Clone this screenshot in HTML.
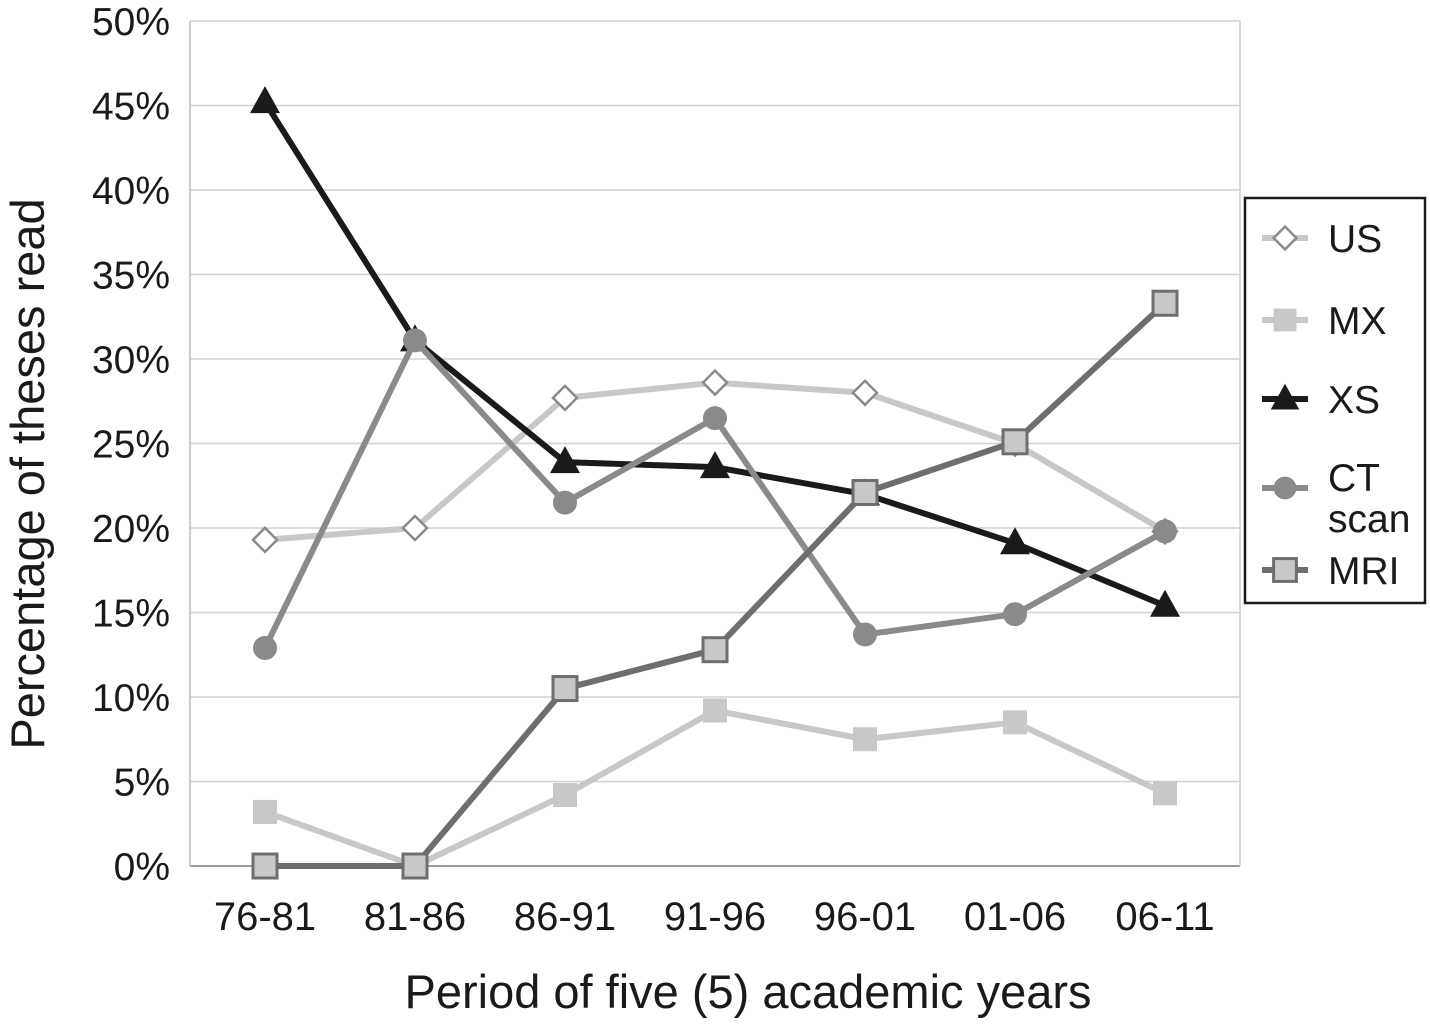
<!DOCTYPE html>
<html><head><meta charset="utf-8"><style>
html,body{margin:0;padding:0;background:#fff}
svg text{font-family:"Liberation Sans",Arial,sans-serif;fill:#1a1a1a}
</style></head><body>
<svg id="chart" width="1430" height="1019" viewBox="0 0 1430 1019" xmlns="http://www.w3.org/2000/svg">
<g id="grid"></g><g id="series"></g>
<text transform="translate(44,474) rotate(-90)" text-anchor="middle" font-size="47">Percentage of theses read</text>
<text x="748" y="1008" text-anchor="middle" font-size="47">Period of five (5) academic years</text>
<g id="legend"></g>
</svg>
<script>
const categories=["76-81","81-86","86-91","91-96","96-01","01-06","06-11"];
const yTicks=[0,5,10,15,20,25,30,35,40,45,50];
const usValues=[19.3,20.0,27.7,28.6,28.0,25.0,19.8];
const mxValues=[3.2,0,4.2,9.2,7.5,8.5,4.3];
const xsValues=[45.2,31.1,23.9,23.6,22.0,19.1,15.4];
const ctValues=[12.9,31.1,21.5,26.5,13.7,14.9,19.8];
const mriValues=[0,0,10.5,12.8,22.1,25.1,33.3];
const NS="http://www.w3.org/2000/svg";
const L=190,R=1240,T=21,B=866;
const x=i=>L+(R-L)/categories.length*(i+0.5);
const y=v=>B-(B-T)*v/50;
function mk(tag,attrs,parent){const e=document.createElementNS(NS,tag);for(const k in attrs)e.setAttribute(k,attrs[k]);parent.appendChild(e);return e;}
const grid=document.getElementById('grid');
yTicks.forEach(t=>{
 const g=mk('line',{x1:L,x2:R,y1:y(t),y2:y(t),stroke:t===0?'#999':'#d0d0d0','stroke-width':t===0?2:1.5},grid);
 
 
 const tx=mk('text',{x:170,y:y(t)+14,'text-anchor':'end','font-size':39},grid);tx.textContent=t+'%';
 
 
});
const ax=mk('line',{x1:L,x2:L,y1:T,y2:B,stroke:'#bbb','stroke-width':1.5},grid);


const ax2=mk('line',{x1:R,x2:R,y1:T,y2:B,stroke:'#ccc','stroke-width':1.5},grid);


categories.forEach((c,i)=>{const t=mk('text',{x:x(i),y:930,'text-anchor':'middle','font-size':40},grid);t.textContent=c;
 
 });
function marker(kind,cx,cy,p,s){
 let e;
 if(kind==='diamond')e=mk('polygon',{points:`${cx},${cy-12*s} ${cx+12*s},${cy} ${cx},${cy+12*s} ${cx-12*s},${cy}`,fill:'#fff',stroke:'#8a8a8a','stroke-width':2.5},p);
 else if(kind==='sq')e=mk('rect',{x:cx-12*s,y:cy-12*s,width:24*s,height:24*s,fill:'#c8c8c8'},p);
 else if(kind==='tri')e=mk('polygon',{points:`${cx},${cy-16*s} ${cx+15*s},${cy+11*s} ${cx-15*s},${cy+11*s}`,fill:'#1a1a1a'},p);
 else if(kind==='circ')e=mk('circle',{cx:cx,cy:cy,r:12*s,fill:'#8a8a8a'},p);
 else e=mk('rect',{x:cx-12*s,y:cy-12*s,width:24*s,height:24*s,fill:'#c8c8c8',stroke:'#6e6e6e','stroke-width':3},p);
 return e;
}
const series=[
 {name:'US',vals:usValues,color:'#c8c8c8',kind:'diamond'},
 {name:'MX',vals:mxValues,color:'#c8c8c8',kind:'sq'},
 {name:'XS',vals:xsValues,color:'#1a1a1a',kind:'tri'},
 {name:'CT',vals:ctValues,color:'#8a8a8a',kind:'circ'},
 {name:'MRI',vals:mriValues,color:'#6e6e6e',kind:'mri'}];
const sg=document.getElementById('series');
series.forEach(s=>{
 const g=mk('g',{},sg);
 
 
 const pl=mk('polyline',{points:s.vals.map((v,i)=>x(i)+','+y(v)).join(' '),fill:'none',stroke:s.color,'stroke-width':6,'stroke-linejoin':'round'},g);
 
 
 s.vals.forEach((v,i)=>{const m=marker(s.kind,x(i),y(v),g,1);
  
  });
});
const lg=document.getElementById('legend');
mk('rect',{x:1245,y:198,width:180,height:405,fill:'#fff',stroke:'#1a1a1a','stroke-width':2.5},lg);
const ly=[238,320,399,478,570];
series.forEach((s,i)=>{
 const g=mk('g',{},lg);
 
 
 const yy=s.name==='CT'?488:ly[i];
 mk('line',{x1:1262,x2:1308,y1:yy,y2:yy,stroke:s.color,'stroke-width':6},g);
 marker(s.kind,1285,yy,g,0.95);
 if(s.name==='CT'){
  const t1=mk('text',{x:1328,y:491,'font-size':39},g);t1.textContent='CT';
  const t2=mk('text',{x:1328,y:532,'font-size':39},g);t2.textContent='scan';
 } else {const t=mk('text',{x:1328,y:yy+14,'font-size':39},g);t.textContent=s.name;}
});
</script>
</body></html>
